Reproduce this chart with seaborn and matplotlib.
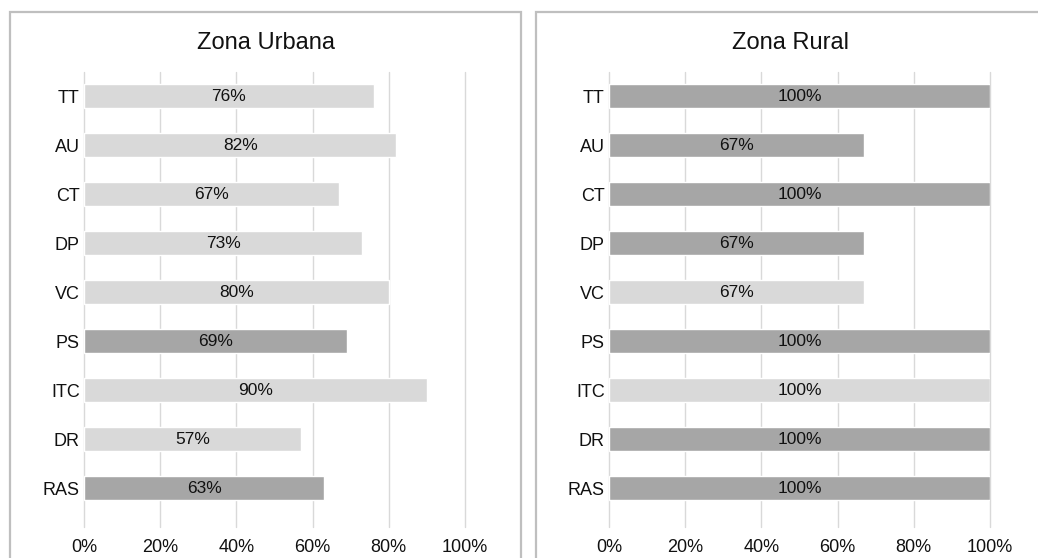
import matplotlib
matplotlib.use("Agg")
import matplotlib.pyplot as plt
import seaborn as sns
import pandas as pd
from matplotlib.patches import Rectangle

# data
categorias = ["TT", "AU", "CT", "DP", "VC", "PS", "ITC", "DR", "RAS"]
urbana = [76, 82, 67, 73, 80, 69, 90, 57, 63]
urbana_tono = ["claro", "claro", "claro", "claro", "claro", "oscuro", "claro", "claro", "oscuro"]
rural = [100, 67, 100, 67, 67, 100, 100, 100, 100]
rural_tono = ["oscuro", "oscuro", "oscuro", "oscuro", "claro", "oscuro", "claro", "oscuro", "oscuro"]
xticks = [0, 20, 40, 60, 80, 100]

paleta = {"claro": "#d9d9d9", "oscuro": "#a6a6a6"}

sns.set_theme(style="white")
plt.rcParams["font.family"] = ["Liberation Sans", "DejaVu Sans"]

W, H = 1038, 558
fig = plt.figure(figsize=(W / 100, H / 100), dpi=100)

# panel frames
for x0, x1 in [(10, 521), (536, 1050)]:
    fig.patches.append(Rectangle((x0 / W, -0.05), (x1 - x0) / W, 1.05 - 12 / H,
                                 transform=fig.transFigure, fill=False,
                                 edgecolor="#bfbfbf", linewidth=1.6))

paneles = [
    ("Zona Urbana", urbana, urbana_tono, 84, 266),
    ("Zona Rural", rural, rural_tono, 609, 791),
]

for titulo, valores, tonos, left_px, title_px in paneles:
    ax = fig.add_axes([left_px / W, 1 - 527 / H, 381 / W, (527 - 72) / H])
    df = pd.DataFrame({"cat": categorias, "val": valores, "tono": tonos})
    sns.barplot(data=df, x="val", y="cat", hue="tono", palette=paleta,
                dodge=False, width=0.49, legend=False, ax=ax, zorder=2)
    ax.set_xlim(0, 100)
    ax.set_ylim(8.79, -0.5)
    ax.set_xticks(xticks)
    ax.set_xticklabels([f"{t}%" for t in xticks])
    ax.xaxis.grid(True, color="#d9d9d9", linewidth=1.0, zorder=0)
    for gl in ax.get_xgridlines():
        gl.set_clip_on(False)
    ax.set_axisbelow(True)
    for s in ax.spines.values():
        s.set_visible(False)
    ax.tick_params(axis="x", length=0, pad=9, labelsize=13, labelcolor="#111111")
    ax.tick_params(axis="y", length=0, pad=3, labelsize=13, labelcolor="#111111")
    ax.set_xlabel("")
    ax.set_ylabel("")
    for i, v in enumerate(valores):
        ax.text(v / 2, i, f"{v}%", ha="center", va="center", fontsize=12.5,
                color="#111111", zorder=3)
    fig.text(title_px / W, 1 - 43 / H, titulo, ha="center", va="center",
             fontsize=17, color="#111111")

fig.savefig("out.png", dpi=100)
